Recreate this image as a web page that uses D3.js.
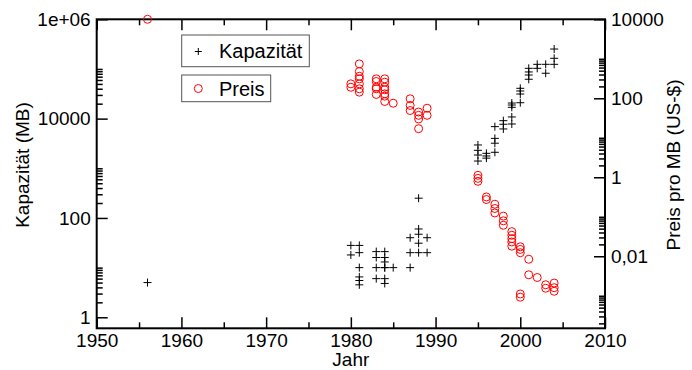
<!DOCTYPE html>
<html><head><meta charset="utf-8">
<script src="https://cdn.jsdelivr.net/npm/d3@7"></script>
<style>
body{margin:0;background:#fff;}
text{font-family:"Liberation Sans",Arial,sans-serif;fill:#000;}
</style></head>
<body><svg id="c" width="692" height="370"></svg>
<script>
// ---- data ----
const capYears = [1956,
  1980,1980,
  1981,1981,1981,1981,1981,1981,
  1983,1983,1983,1983,
  1984,1984,1984,1984,1984,1984,1984,
  1985,
  1987,1987,1987,
  1988,1988,1988,1988,1988,
  1989,1989,
  1995,1995,1995,1995,
  1996,1996,1996,
  1997,1997,1997,1997,
  1998,1998,1998,
  1999,1999,1999,1999,1999,
  2000,2000,2000,2000,
  2001,2001,2001,2001,
  2002,2002,
  2003,2003,
  2004,2004,2004];
const capValues = [5,
  28,18,
  28,20,10,6.5,5.5,4.5,
  21,16,10,6,
  21,16,13,10,10,6,4.8,
  10,
  40,20,10,
  250,60,47,31,20,
  40,20,
  2950,2300,1850,1400,
  2000,1770,1600,
  6900,4000,3200,2100,
  9100,7700,6200,
  20600,18800,16900,10800,7800,
  40800,36000,31300,20900,
  103000,87000,75500,62000,
  124000,103000,
  124000,82000,
  252000,164000,124000];
const priceYears = [1956,
  1980,1980,
  1981,1981,1981,1981,1981,1981,1981,
  1983,1983,1983,1983,1983,
  1984,1984,1984,1984,1984,1984,1984,
  1985,
  1987,1987,1987,
  1988,1988,1988,1988,
  1989,1989,
  1995,1995,1995,
  1996,1996,
  1997,1997,1997,
  1998,1998,1998,
  1999,1999,1999,1999,1999,
  2000,2000,2000,2000,2000,
  2001,2001,
  2002,
  2003,2003,
  2004,2004,2004];
const priceValues = [10000,
  232,190,
  743,475,361,311,232,174,143,
  311,266,191,174,125,
  311,255,191,164,130,113,83,
  75,
  97,66,49,
  45,37,30,17,
  56,37,
  1.12,0.94,0.79,
  0.318,0.273,
  0.208,0.162,0.125,
  0.104,0.079,0.061,
  0.042,0.034,0.028,0.023,0.018,
  0.0174,0.0149,0.0123,0.00111,0.00092,
  0.0084,0.0034,
  0.0029,
  0.0019,0.00155,
  0.0021,0.0016,0.0013];

const xDomain = [1950, 2010];
const xTicks = [1950,1960,1970,1980,1990,2000,2010];
const xMinorTicks = [1955,1965,1975,1985,1995,2005];
const leftDomain = [0.6, 1e6];
const leftTicks = [1, 100, 10000, 1e6];
const leftTickLabels = ["1","100","10000","1e+06"];
const rightDomain = [1.5e-4, 1e4];
const rightTicks = [0.01, 1, 100, 10000];
const rightTickLabels = ["0,01","1","100","10000"];
const legendLabels = ["Kapazität","Preis"];

// ---- layout ----
const L = 96.7, R = 605, T = 19.3, B = 328.3;
const FS = 19;
const svg = d3.select("#c");

const x = d3.scaleLinear().domain(xDomain).range([L, R]);
const yL = d3.scaleLog().domain(leftDomain).range([B, T]);
const yR = d3.scaleLog().domain(rightDomain).range([B, T]);

function minorLog(domain, majors){
  const out = [];
  const lo = Math.floor(Math.log10(domain[0]) / 2) * 2;
  const hi = Math.log10(domain[1]);
  for (let e = lo; e < hi; e += 2) {
    for (let k = 2; k <= 10; k++) {
      const v = k * Math.pow(10, e);
      if (v >= domain[0] && v <= domain[1]) out.push(v);
    }
  }
  return out;
}

function styleAxis(g){
  g.select(".domain").remove();
  g.selectAll(".tick line").attr("stroke","#000").attr("stroke-width",1.5);
  g.selectAll(".tick text").style("font-size", FS+"px");
}

// bottom
svg.append("g").attr("transform",`translate(0,${B})`)
  .call(d3.axisBottom(x).tickValues(xTicks).tickSize(-11).tickPadding(5).tickFormat(d3.format("d")))
  .call(styleAxis);
svg.append("g").attr("transform",`translate(0,${B})`)
  .call(d3.axisBottom(x).tickValues(xMinorTicks).tickSize(-6).tickFormat(""))
  .call(styleAxis);
// top mirror
svg.append("g").attr("transform",`translate(0,${T})`)
  .call(d3.axisTop(x).tickValues(xTicks).tickSize(-11).tickFormat(""))
  .call(styleAxis);
svg.append("g").attr("transform",`translate(0,${T})`)
  .call(d3.axisTop(x).tickValues(xMinorTicks).tickSize(-6).tickFormat(""))
  .call(styleAxis);
// left
svg.append("g").attr("transform",`translate(${L},0)`)
  .call(d3.axisLeft(yL).tickValues(leftTicks).tickSize(-11).tickPadding(6)
    .tickFormat((d,i)=>leftTickLabels[leftTicks.indexOf(d)]))
  .call(styleAxis);
svg.append("g").attr("transform",`translate(${L},0)`)
  .call(d3.axisLeft(yL).tickValues(minorLog(leftDomain)).tickSize(-6).tickFormat(""))
  .call(styleAxis);
// right
svg.append("g").attr("transform",`translate(${R},0)`)
  .call(d3.axisRight(yR).tickValues(rightTicks).tickSize(-11).tickPadding(6)
    .tickFormat((d)=>rightTickLabels[rightTicks.indexOf(d)]))
  .call(styleAxis);
svg.append("g").attr("transform",`translate(${R},0)`)
  .call(d3.axisRight(yR).tickValues(minorLog(rightDomain)).tickSize(-6).tickFormat(""))
  .call(styleAxis);

// frame
svg.append("rect").attr("x",L).attr("y",T).attr("width",R-L).attr("height",B-T)
  .attr("fill","none").attr("stroke","#000").attr("stroke-width",2);

// axis titles
svg.append("text").attr("x",(L+R)/2).attr("y",366).attr("text-anchor","middle")
  .style("font-size",FS+"px").text("Jahr");
svg.append("text").attr("transform",`translate(29,165) rotate(-90)`).attr("text-anchor","middle")
  .style("font-size",FS+"px").text("Kapazität (MB)");
svg.append("text").attr("transform",`translate(680,165) rotate(-90)`).attr("text-anchor","middle")
  .style("font-size",FS+"px").text("Preis pro MB (US-$)");

// capacity points (+)
const cap = capYears.map((y,i)=>({year:y, v:capValues[i]}));
const price = priceYears.map((y,i)=>({year:y, v:priceValues[i]}));
const S = 4;
svg.append("g").selectAll("path").data(cap).join("path")
  .attr("d", d=>{const cx=x(d.year), cy=yL(d.v);
    return `M${cx-S},${cy}H${cx+S}M${cx},${cy-S}V${cy+S}`;})
  .attr("stroke","#000").attr("stroke-width",1).attr("fill","none");
svg.append("g").selectAll("circle").data(price).join("circle")
  .attr("cx",d=>x(d.year)).attr("cy",d=>yR(d.v)).attr("r",4)
  .attr("stroke","#ff0000").attr("stroke-width",1).attr("fill","none");

// legend
const lg = svg.append("g");
lg.append("rect").attr("x",181.7).attr("y",35).attr("width",127.6).attr("height",31.7)
  .attr("fill","#fff").attr("stroke","#555").attr("stroke-width",1);
lg.append("rect").attr("x",181.7).attr("y",75).attr("width",89).attr("height",26.7)
  .attr("fill","#fff").attr("stroke","#555").attr("stroke-width",1);
lg.append("path").attr("d",`M${198.3-3.5},51.5H${198.3+3.5}M198.3,48V55`)
  .attr("stroke","#000").attr("stroke-width",1);
lg.append("circle").attr("cx",198.3).attr("cy",88.5).attr("r",4)
  .attr("stroke","#ff0000").attr("fill","none");
lg.append("text").attr("x",219).attr("y",58).style("font-size","20px").text(legendLabels[0]);
lg.append("text").attr("x",219).attr("y",95.5).style("font-size","20px").text(legendLabels[1]);
</script>
</body></html>
